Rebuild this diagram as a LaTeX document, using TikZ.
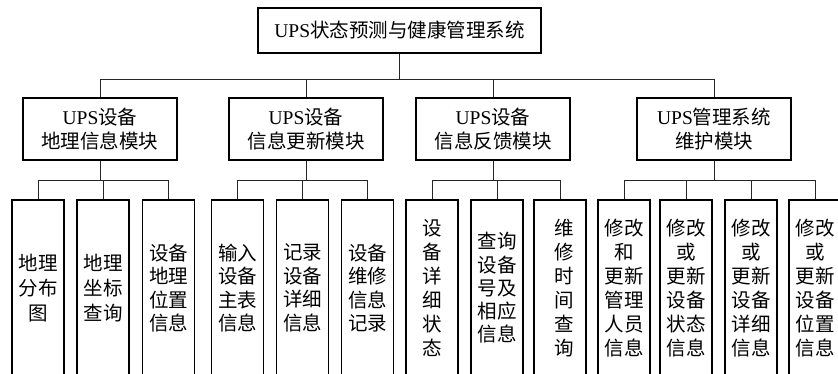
\documentclass[tikz,border=0pt]{standalone}
\usepackage{fontspec}
\setmainfont{Liberation Serif}
\newfontfamily\cjk{Noto Sans CJK SC}
\newcommand\lat[1]{{\rmfamily #1}}
\begin{document}
\begin{tikzpicture}[x=1pt,y=-1pt,
  box/.style={draw=black,line width=1.5pt,fill=white,inner sep=0pt,align=center,
    font=\cjk\fontsize{19.5}{24}\selectfont},
  topbox/.style={box,minimum width=283,minimum height=45},
  modbox/.style={box,minimum width=154,minimum height=62},
  leaf/.style={box,minimum width=52,minimum height=176},
  conn/.style={draw=black!85,line width=0.8pt}]
\useasboundingbox[fill=white] (0,0) rectangle (838,374);
% top
\node[topbox] (top) at (399.5,30.5) {\lat{UPS}状态预测与健康管理系统};
% modules
\node[modbox] (m1) at (100,129) {\lat{UPS}设备\\地理信息模块};
\node[modbox] (m2) at (306,129) {\lat{UPS}设备\\信息更新模块};
\node[modbox] (m3) at (493,129) {\lat{UPS}设备\\信息反馈模块};
\node[modbox] (m4) at (714,129) {\lat{UPS}管理系统\\维护模块};
% leaves group 1
\node[leaf,font=\cjk\fontsize{19.5}{25}\selectfont] (c11) at (38,288) {地理\\分布\\图};
\node[leaf,font=\cjk\fontsize{19.5}{25}\selectfont] (c12) at (103,288) {地理\\坐标\\查询};
\node[leaf,font=\cjk\fontsize{19.5}{23.5}\selectfont] (c13) at (168.5,288) {设备\\地理\\位置\\信息};
% group 2
\node[leaf,font=\cjk\fontsize{19.5}{23.5}\selectfont] (c21) at (237.5,288) {输入\\设备\\主表\\信息};
\node[leaf,font=\cjk\fontsize{19.5}{23.5}\selectfont] (c22) at (302.5,288) {记录\\设备\\详细\\信息};
\node[leaf,font=\cjk\fontsize{19.5}{23.5}\selectfont] (c23) at (367.5,288) {设备\\维修\\信息\\记录};
% group 3
\node[leaf] (c31) at (432,288) {设\\备\\详\\细\\状\\态};
\node[leaf,font=\cjk\fontsize{19.5}{23.3}\selectfont] (c32) at (497,288) {查询\\设备\\号及\\相应\\信息};
\node[leaf] (c33) at (560,288) {\hspace*{8pt}维\\\hspace*{8pt}修\\\hspace*{8pt}时\\\hspace*{8pt}间\\\hspace*{8pt}查\\\hspace*{8pt}询};
% group 4
\node[leaf] (c41) at (624,288) {修改\\和\\更新\\管理\\人员\\信息};
\node[leaf] (c42) at (686,288) {修改\\或\\更新\\设备\\状态\\信息};
\node[leaf] (c43) at (751,288) {修改\\或\\更新\\设备\\详细\\信息};
\node[leaf] (c44) at (815,288) {修改\\或\\更新\\设备\\位置\\信息};
% connectors: top level
\coordinate (yb0) at (0,79);
\coordinate (yb1) at (0,180);
\draw[conn] (top.south) -- (top.south |- yb0);
\draw[conn] (m1.north) -- (m1.north |- yb0) -- (m4.north |- yb0) -- (m4.north);
\draw[conn] (m2.north) -- (m2.north |- yb0);
\draw[conn] (m3.north) -- (m3.north |- yb0);
% group buses
\draw[conn] (m1.south) -- (m1.south |- yb1);
\draw[conn] (c11.north) -- (c11.north |- yb1) -- (c13.north |- yb1) -- (c13.north);
\draw[conn] (c12.north) -- (c12.north |- yb1);
\draw[conn] (m2.south) -- (m2.south |- yb1);
\draw[conn] (c21.north) -- (c21.north |- yb1) -- (c23.north |- yb1) -- (c23.north);
\draw[conn] (c22.north) -- (c22.north |- yb1);
\draw[conn] (m3.south) -- (m3.south |- yb1);
\draw[conn] (c31.north) -- (c31.north |- yb1) -- (c33.north |- yb1) -- (c33.north);
\draw[conn] (c32.north) -- (c32.north |- yb1);
\draw[conn] (m4.south) -- (m4.south |- yb1);
\draw[conn] (c41.north) -- (c41.north |- yb1) -- (c44.north |- yb1) -- (c44.north);
\draw[conn] (c42.north) -- (c42.north |- yb1);
\draw[conn] (c43.north) -- (c43.north |- yb1);
\end{tikzpicture}
\end{document}
